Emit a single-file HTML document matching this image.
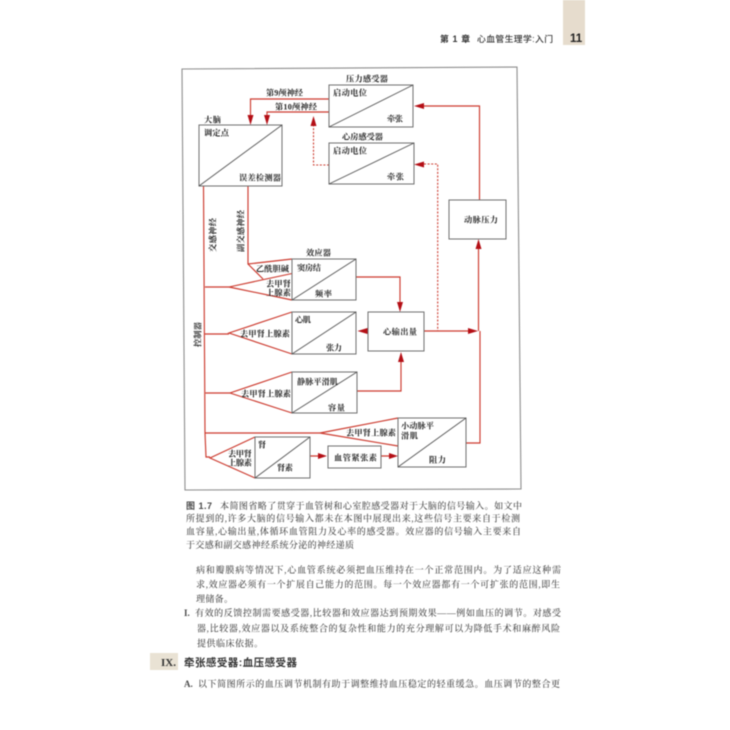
<!DOCTYPE html>
<html lang="zh"><head><meta charset="utf-8"><style>
html,body{margin:0;padding:0;background:#fff;width:730px;height:730px;overflow:hidden}
svg{display:block;filter:blur(.4px)}
.d{font-family:"Liberation Serif","Noto Serif CJK SC",serif;font-size:8.2px;font-weight:700;fill:#222}
.b{font-family:"Liberation Serif","Noto Serif CJK SC",serif;font-size:9px;font-weight:500;fill:#4a4a4a}
.box{fill:#fff;stroke:#6f6f6f;stroke-width:1}
.diag{stroke:#555;stroke-width:.9}
.r{fill:none;stroke:#cc3a2e;stroke-width:1.15}
.rd{fill:none;stroke:#cc3a2e;stroke-width:1.1;stroke-dasharray:2 1.6}
.a{fill:#b40f16}
</style></head><body>
<svg width="730" height="730" viewBox="0 0 730 730" xmlns="http://www.w3.org/2000/svg">
<rect x="563" y="0" width="22" height="45" fill="#e6dccd"/>
<text x="440" y="42" textLength="30" lengthAdjust="spacing" style="font:700 8.8px 'Liberation Sans','Noto Sans CJK SC',sans-serif;fill:#333">第 1 章</text>
<text x="477" y="42" textLength="76" lengthAdjust="spacing" style="font:500 8.8px 'Liberation Sans','Noto Sans CJK SC',sans-serif;fill:#333">心血管生理学:入门</text>
<text x="570" y="42" style="font:700 11.5px 'Liberation Sans',sans-serif;fill:#222">11</text>

<polygon points="182,69 517,67 521,489 185,490" fill="#fff" stroke="#8d8d8d" stroke-width="1.1"/>

<!-- connectors -->
<path class="r" d="M329 99H250.500V116M329 112H267V116"/>
<path class="rd" d="M329 165H313.500V125"/>
<path class="rd" d="M424 164H437.700V331"/>
<path class="r" d="M479.500 200V106H424"/>
<path class="r" d="M203.500 186L205 433L206 457H210M205 287H229M205 334H229M205.500 393H230M205.500 433H320"/>
<path class="r" d="M248 186V264L292 259M248 264L263 279"/>
<path class="r" d="M292 273.500L229 287L292 300"/>
<path class="r" d="M292 312L229 333L292 354"/>
<path class="r" d="M292 372L230 393L292 413"/>
<path class="r" d="M398 418L320 433L398 446"/>
<path class="r" d="M255 437L210 458L255 478"/>
<path class="r" d="M356 277H400V302"/>
<path class="r" d="M357 391H401V362"/>
<path class="r" d="M424 331H469M478.500 249V331M466 443H480V331"/>
<path class="r" d="M310 456H318M381 456H389"/>

<!-- arrowheads -->
<polygon class="a" points="250.500,125 247.500,115 253.500,115"/>
<polygon class="a" points="267,125 264,115 270,115"/>
<polygon class="a" points="313.500,116 310.500,126 316.500,126"/>
<polygon class="a" points="414,106 424,103 424,109"/>
<polygon class="a" points="414,164.500 424,161.500 424,167.500"/>
<polygon class="a" points="478.500,239 475.500,249 481.500,249"/>
<polygon class="a" points="400,312 397,302 403,302"/>
<polygon class="a" points="401,352 398,362 404,362"/>
<polygon class="a" points="357.500,331 367.500,328 367.500,334"/>
<polygon class="a" points="478,331 468,328 468,334"/>
<polygon class="a" points="327,456 318,453 318,459"/>
<polygon class="a" points="398,456 389,453 389,459"/>

<!-- boxes -->
<rect class="box" x="329" y="85" width="84" height="42"/><line class="diag" x1="329" y1="127" x2="413" y2="85"/>
<rect class="box" x="329" y="143" width="85" height="41"/><line class="diag" x1="329" y1="184" x2="414" y2="143"/>
<rect class="box" x="199" y="125" width="83" height="61"/><line class="diag" x1="199" y1="186" x2="282" y2="125"/>
<rect class="box" x="449" y="200" width="57" height="39"/>
<rect class="box" x="292" y="259" width="64" height="41"/><line class="diag" x1="292" y1="300" x2="356" y2="259"/>
<rect class="box" x="292" y="312" width="64" height="42"/><line class="diag" x1="292" y1="354" x2="356" y2="312"/>
<rect class="box" x="292" y="372" width="65" height="41"/><line class="diag" x1="292" y1="413" x2="357" y2="372"/>
<rect class="box" x="398" y="418" width="68" height="49"/><line class="diag" x1="398" y1="467" x2="466" y2="418"/>
<rect class="box" x="255" y="437" width="55" height="41"/><line class="diag" x1="255" y1="478" x2="310" y2="437"/>
<rect class="box" x="328" y="446" width="53" height="22"/>
<rect class="box" x="368" y="312" width="56" height="39"/>

<!-- diagram labels -->
<g class="d">
<text x="346" y="81.500" textLength="42">压力感受器</text>
<text x="333" y="95.500" textLength="34">启动电位</text>
<text x="387" y="121.500" textLength="16">牵张</text>
<text x="342" y="139.500" textLength="41">心房感受器</text>
<text x="333" y="153.500" textLength="34">启动电位</text>
<text x="387" y="179.500" textLength="17">牵张</text>
<text x="266" y="95.500" textLength="37">第9颅神经</text>
<text x="275" y="109.500" textLength="42">第10颅神经</text>
<text x="204" y="122.500" textLength="17">大脑</text>
<text x="204" y="135.500" textLength="25">调定点</text>
<text x="239" y="180.500" textLength="42">误差检测器</text>
<text transform="translate(215.500 252) rotate(-90)" textLength="34">交感神经</text>
<text transform="translate(243.500 252) rotate(-90)" textLength="42">副交感神经</text>
<text x="464" y="222.500" textLength="34">动脉压力</text>
<text x="306" y="255.500" textLength="25">效应器</text>
<text x="297" y="270.500" textLength="24">窦房结</text>
<text x="256" y="271.500" textLength="33">乙酰胆碱</text>
<text x="266" y="286.500" textLength="25">去甲肾</text>
<text x="266" y="295.500" textLength="25">上腺素</text>
<text x="315" y="296.500" textLength="17">频率</text>
<text x="295" y="322.500" textLength="16">心肌</text>
<text x="326" y="350.500" textLength="16">张力</text>
<text x="240" y="336.500" textLength="50">去甲肾上腺素</text>
<text x="383" y="334.500" textLength="34">心输出量</text>
<text x="297" y="384.500" textLength="41">静脉平滑肌</text>
<text x="328" y="410.500" textLength="17">容量</text>
<text x="241" y="396.500" textLength="50">去甲肾上腺素</text>
<text transform="translate(200.500 347) rotate(-90)" textLength="25">控制器</text>
<text x="401" y="428.500" textLength="33">小动脉平</text>
<text x="401" y="438.500" textLength="17">滑肌</text>
<text x="429" y="462.500" textLength="17">阻力</text>
<text x="346" y="435.500" textLength="50">去甲肾上腺素</text>
<text x="228" y="456.500" textLength="24">去甲肾</text>
<text x="228" y="465.500" textLength="24">上腺素</text>
<text x="258" y="447.500">肾</text>
<text x="277" y="470.500" textLength="16">肾素</text>
<text x="334" y="460.500" textLength="43">血管紧张素</text>
</g>

<!-- caption -->
<g class="b">
<text x="186" y="509" style="font-weight:700;font-family:'Liberation Sans','Noto Sans CJK SC',sans-serif" textLength="26">图 1.7</text>
<text x="220" y="509" textLength="302">本简图省略了贯穿于血管树和心室腔感受器对于大脑的信号输入。如文中</text>
<text x="186" y="521.500" textLength="334">所提到的,许多大脑的信号输入都未在本图中展现出来,这些信号主要来自于检测</text>
<text x="186" y="534.500" textLength="335">血容量,心输出量,体循环血管阻力及心率的感受器。效应器的信号输入主要来自</text>
<text x="186" y="548" textLength="168">于交感和副交感神经系统分泌的神经递质</text>
<text x="196" y="573" textLength="365">病和瓣膜病等情况下,心血管系统必须把血压维持在一个正常范围内。为了适应这种需</text>
<text x="196" y="587.500" textLength="364">求,效应器必须有一个扩展自己能力的范围。每一个效应器都有一个可扩张的范围,即生</text>
<text x="196" y="602" textLength="37">理储备。</text>
<text x="184" y="616" style="font-weight:700">I.</text>
<text x="195" y="616" textLength="366">有效的反馈控制需要感受器,比较器和效应器达到预期效果——例如血压的调节。对感受</text>
<text x="197" y="631.500" textLength="363">器,比较器,效应器以及系统整合的复杂性和能力的充分理解可以为降低手术和麻醉风险</text>
<text x="197" y="646.500" textLength="66">提供临床依据。</text>
<text x="184" y="687" style="font-weight:700">A.</text>
<text x="198" y="687" textLength="362">以下简图所示的血压调节机制有助于调整维持血压稳定的轻重缓急。血压调节的整合更</text>
</g>
<rect x="150" y="653" width="28" height="17" fill="#e9e2d4"/>
<text x="161" y="666" style="font:700 11px 'Liberation Serif',serif;fill:#333">IX.</text>
<text x="184" y="666" textLength="113" style="font:700 10.5px 'Liberation Sans','Noto Sans CJK SC',sans-serif;fill:#333">牵张感受器:血压感受器</text>
</svg>
</body></html>
